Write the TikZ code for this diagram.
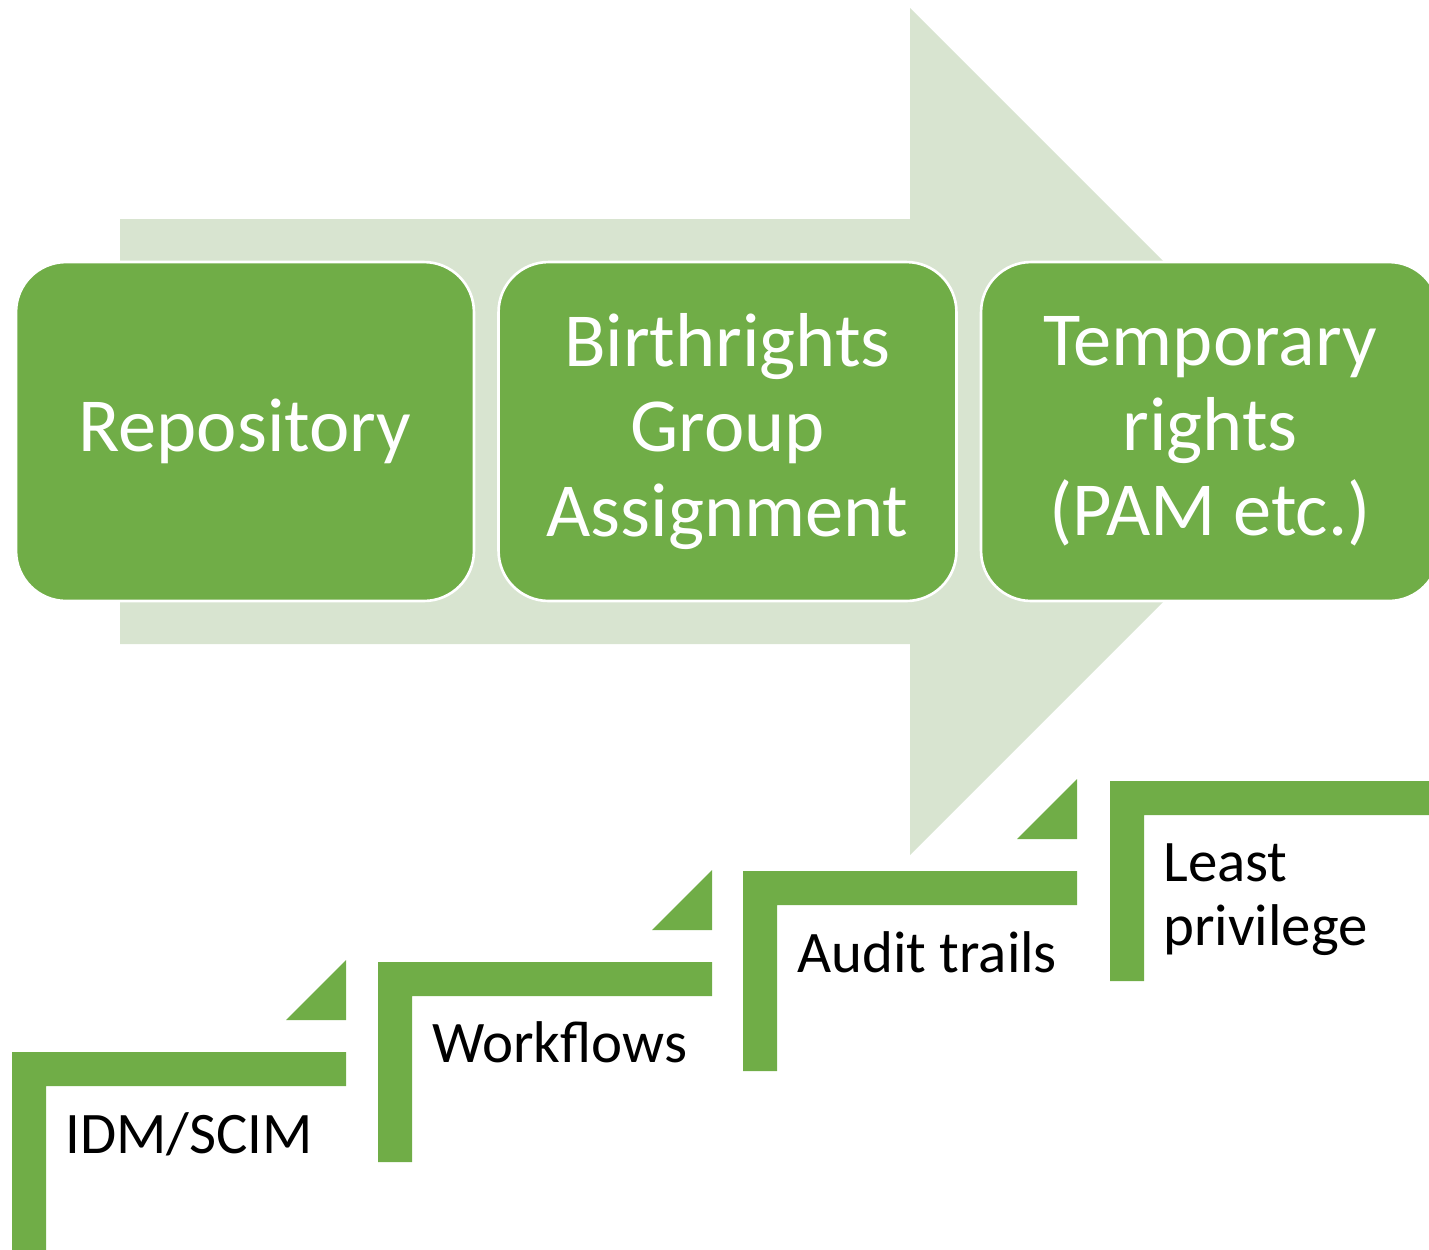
\documentclass[tikz,border=0pt]{standalone}
\usepackage{fontspec}
\setmainfont{Carlito}
\definecolor{leafgreen}{RGB}{112,173,71}
\definecolor{palegreen}{RGB}{216,228,208}
\tikzset{
  stage/.style={draw=white, line width=1.5pt, fill=leafgreen, rounded corners=1cm,
    minimum width=9.16cm, minimum height=6.78cm, inner sep=0pt, text=white,
    align=center, font=\fontsize{43.5}{48.5}\selectfont},
  gain/.style={anchor=base west, inner sep=0pt, align=left,
    font=\fontsize{33.5}{36}\selectfont},
}
\begin{document}
\begin{tikzpicture}[x=0.02cm, y=-0.02cm]
      \useasboundingbox (0,0) rectangle (1429,1249);
      \clip (0,0) rectangle (1429,1249);
      \fill[palegreen] (120,219) -- (910,219) -- (910,8) -- (1333.5,431.5)
        -- (910,855) -- (910,644) -- (120,644) -- cycle;
      \coordinate (B1) at (245,431.5);
      \coordinate (B2) at (727.5,431.5);
      \coordinate (B3) at (1210,431.5);
      \node[stage] (repo) at (B1) {\raisebox{-0.1cm}{Repository}};
      \node[stage] (birth) at (B2) {Birthrights\\Group\\Assignment};
      \node[stage] (temp) at (B3) {Temporary\\rights\\(PAM etc.)};
      \coordinate (S1) at (12,1052);
      \coordinate (S2) at (378,962);
      \coordinate (S3) at (743,871);
      \coordinate (S4) at (1110,781);
      \fill[leafgreen] (S1) -- ++(334,0) -- ++(0,34) -- ++(-300,0) -- ++(0,166) -- ++(-34,0) -- cycle;
      \fill[leafgreen] (S1) ++(334,-92) -- ++(0,60) -- ++(-60,0) -- cycle;
      \fill[leafgreen] (S2) -- ++(334,0) -- ++(0,34) -- ++(-300,0) -- ++(0,166) -- ++(-34,0) -- cycle;
      \fill[leafgreen] (S2) ++(334,-92) -- ++(0,60) -- ++(-60,0) -- cycle;
      \fill[leafgreen] (S3) -- ++(334,0) -- ++(0,34) -- ++(-300,0) -- ++(0,166) -- ++(-34,0) -- cycle;
      \fill[leafgreen] (S3) ++(334,-92) -- ++(0,60) -- ++(-60,0) -- cycle;
      \fill[leafgreen] (S4) -- ++(334,0) -- ++(0,34) -- ++(-300,0) -- ++(0,166) -- ++(-34,0) -- cycle;
      \node[gain] (idm) at (65,1153) {IDM/SCIM};
      \node[gain] (flows) at (432,1062) {Workflows};
      \node[gain] (audit) at (797,972) {Audit trails};
      \node[gain] (least) at (1163,945) {Least\\privilege};
    \end{tikzpicture}
\end{document}
